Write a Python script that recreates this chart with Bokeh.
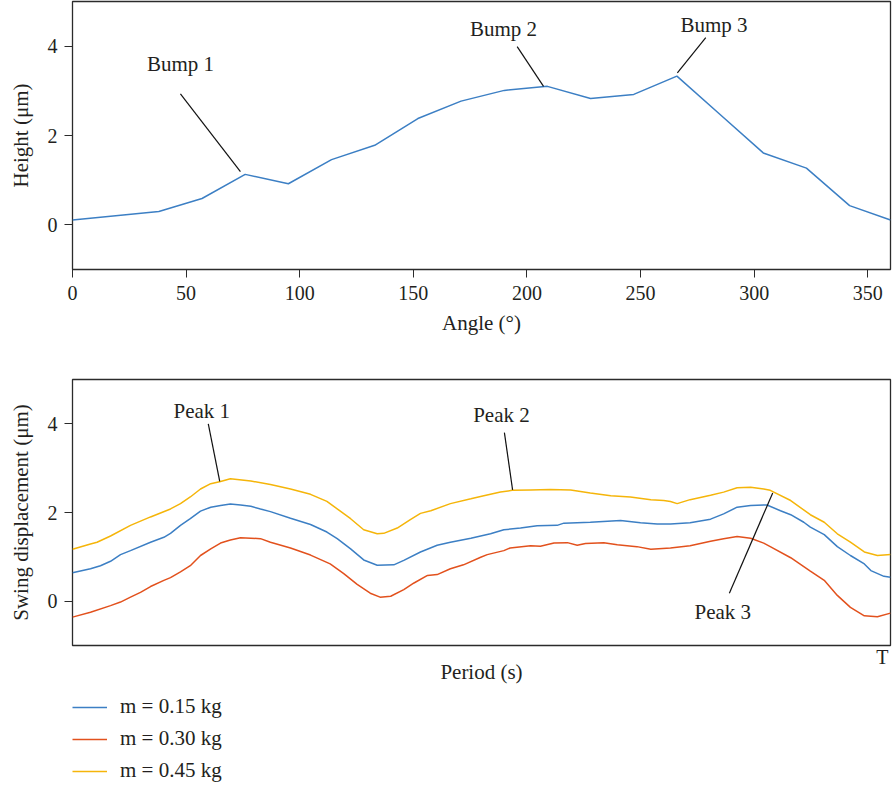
from bokeh.plotting import figure
from bokeh.layouts import column
from bokeh.models import Range1d, FixedTicker, Legend, LegendItem
from bokeh.core.properties import value
from bokeh.embed import file_html
from bokeh.resources import INLINE

# ---------------- data: top panel (surface height vs angle) ----------------
angle_deg = [0, 38, 57, 76, 95, 114, 133, 152, 171, 190, 209, 228, 247, 266, 285, 304, 323, 342, 360]
height_um = [0.11, 0.30, 0.59, 1.13, 0.92, 1.46, 1.78, 2.38, 2.77, 3.01, 3.10, 2.83, 2.92, 3.33, 2.47, 1.61, 1.27, 0.43, 0.11]
angle_ticks = [0, 50, 100, 150, 200, 250, 300, 350]
height_ticks = [0, 2, 4]

bump_labels = ["Bump 1", "Bump 2", "Bump 3"]
bump_text_x = [47.5, 189.7, 282.3]
bump_text_y = [3.59, 4.38, 4.47]
bump_line_x0 = [47.5, 195.7, 278.7]
bump_line_y0 = [2.93, 3.99, 4.19]
bump_line_x1 = [73.9, 207.3, 266.2]
bump_line_y1 = [1.19, 3.10, 3.40]

# ---------------- data: bottom panel (swing displacement over one period T) ----------------
period_015 = [0, 0.022, 0.0342, 0.0465, 0.0587, 0.0709, 0.0954, 0.1117, 0.1198, 0.132, 0.144, 0.1565,
              0.169, 0.181, 0.193, 0.2054, 0.218, 0.2298, 0.242, 0.2665, 0.291, 0.311, 0.3236, 0.340,
              0.356, 0.3725, 0.3928, 0.405, 0.4254, 0.4458, 0.462, 0.487, 0.511, 0.5273, 0.5477, 0.568,
              0.5925, 0.6007, 0.633, 0.670, 0.6944, 0.7148, 0.731, 0.755, 0.780, 0.796, 0.8125, 0.829,
              0.849, 0.8655, 0.878, 0.894, 0.902, 0.919, 0.935, 0.951, 0.968, 0.976, 0.992, 1.0]
disp_015 = [0.64, 0.73, 0.80, 0.90, 1.05, 1.14, 1.33, 1.44, 1.53, 1.71, 1.86, 2.03,
            2.12, 2.16, 2.19, 2.17, 2.14, 2.08, 2.02, 1.87, 1.73, 1.56, 1.41, 1.18,
            0.93, 0.81, 0.82, 0.92, 1.11, 1.26, 1.33, 1.42, 1.52, 1.61, 1.65, 1.70,
            1.71, 1.76, 1.78, 1.82, 1.77, 1.74, 1.74, 1.77, 1.85, 1.97, 2.12, 2.16,
            2.17, 2.04, 1.95, 1.78, 1.67, 1.50, 1.23, 1.03, 0.84, 0.69, 0.56, 0.54]

period_030 = [0, 0.022, 0.0465, 0.0587, 0.0709, 0.0831, 0.0954, 0.1117, 0.1198, 0.132, 0.144, 0.1565,
              0.169, 0.181, 0.193, 0.2054, 0.218, 0.2298, 0.242, 0.2665, 0.291, 0.315, 0.3316, 0.348,
              0.364, 0.376, 0.389, 0.405, 0.4175, 0.434, 0.4458, 0.462, 0.478, 0.499, 0.507, 0.5273,
              0.535, 0.560, 0.572, 0.5886, 0.605, 0.617, 0.6271, 0.6495, 0.666, 0.690, 0.707, 0.731,
              0.755, 0.780, 0.796, 0.8125, 0.829, 0.845, 0.853, 0.878, 0.902, 0.919, 0.935, 0.951,
              0.968, 0.984, 1.0]
disp_030 = [-0.36, -0.25, -0.10, -0.02, 0.09, 0.20, 0.33, 0.47, 0.53, 0.66, 0.80, 1.03,
            1.18, 1.31, 1.38, 1.43, 1.42, 1.41, 1.33, 1.20, 1.04, 0.84, 0.62, 0.38,
            0.18, 0.09, 0.11, 0.26, 0.41, 0.58, 0.60, 0.73, 0.82, 0.99, 1.05, 1.14,
            1.20, 1.25, 1.24, 1.31, 1.32, 1.26, 1.30, 1.32, 1.27, 1.23, 1.17, 1.20,
            1.25, 1.35, 1.41, 1.46, 1.42, 1.31, 1.23, 0.98, 0.68, 0.47, 0.13, -0.14,
            -0.33, -0.35, -0.27]

period_045 = [0, 0.022, 0.030, 0.0465, 0.0709, 0.0954, 0.1198, 0.132, 0.144, 0.1565, 0.169, 0.181,
              0.193, 0.218, 0.242, 0.2665, 0.291, 0.311, 0.3236, 0.340, 0.356, 0.3725, 0.3805, 0.397,
              0.413, 0.4254, 0.438, 0.462, 0.487, 0.5028, 0.5232, 0.5375, 0.560, 0.584, 0.609, 0.633,
              0.658, 0.682, 0.707, 0.7228, 0.731, 0.7392, 0.755, 0.780, 0.796, 0.8125, 0.829, 0.845,
              0.853, 0.878, 0.902, 0.919, 0.935, 0.951, 0.968, 0.984, 1.0]
disp_045 = [1.17, 1.29, 1.33, 1.47, 1.71, 1.90, 2.08, 2.20, 2.35, 2.53, 2.65, 2.70,
            2.76, 2.71, 2.63, 2.53, 2.41, 2.25, 2.08, 1.86, 1.61, 1.52, 1.53, 1.65,
            1.84, 1.98, 2.04, 2.20, 2.31, 2.38, 2.46, 2.50, 2.51, 2.52, 2.51, 2.44,
            2.38, 2.35, 2.29, 2.27, 2.25, 2.20, 2.29, 2.39, 2.46, 2.56, 2.57, 2.53,
            2.50, 2.27, 1.95, 1.78, 1.52, 1.33, 1.11, 1.03, 1.05]

series_labels = ["m = 0.15 kg", "m = 0.30 kg", "m = 0.45 kg"]
period_ticks = [1.0]
period_tick_labels = ["T"]
disp_ticks = [0, 2, 4]

peak_labels = ["Peak 1", "Peak 2", "Peak 3"]
peak_text_x = [0.158, 0.5244, 0.795]
peak_text_y = [4.30, 4.19, -0.25]
peak_line_x0 = [0.166, 0.528, 0.856]
peak_line_y0 = [4.00, 3.80, 2.44]
peak_line_x1 = [0.180, 0.538, 0.803]
peak_line_y1 = [2.70, 2.51, 0.18]

# ---------------- styling ----------------
FONT = "Liberation Serif"
TXT = "#231f20"
EDGE = "#2b2b2b"
BLUE, RED, YELLOW = "#3c7fc4", "#e2511d", "#f5b50a"
COLORS = [BLUE, RED, YELLOW]
FS = "21px"
TICK_FS = "20px"


def style(p):
    p.grid.visible = False
    p.outline_line_color = EDGE
    p.outline_line_width = 1.3
    p.background_fill_color = "white"
    p.border_fill_color = "white"
    for ax in p.axis:
        ax.axis_line_color = None
        ax.major_tick_line_color = EDGE
        ax.major_tick_line_width = 1
        ax.major_tick_out = 8
        ax.major_tick_in = 0
        ax.minor_tick_line_color = None
        ax.major_label_text_font = FONT
        ax.major_label_text_font_size = TICK_FS
        ax.major_label_text_color = TXT
        ax.axis_label_text_font = FONT
        ax.axis_label_text_font_size = FS
        ax.axis_label_text_font_style = "normal"
        ax.axis_label_text_color = TXT


W = 892

# ---------------- top figure ----------------
p1 = figure(width=W, height=341, output_backend="svg", toolbar_location=None,
            x_range=Range1d(0, 360), y_range=Range1d(-1, 5),
            min_border_left=72, min_border_right=2, min_border_top=1, min_border_bottom=72)
style(p1)
p1.xaxis.ticker = FixedTicker(ticks=angle_ticks)
p1.yaxis.ticker = FixedTicker(ticks=height_ticks)
p1.xaxis.axis_label = "Angle (°)"
p1.yaxis.axis_label = "Height (μm)"
p1.xaxis.major_label_standoff = 8
p1.xaxis.axis_label_standoff = 8
p1.yaxis.major_label_standoff = 7
p1.yaxis.axis_label_standoff = 12

p1.line(angle_deg, height_um, line_color=BLUE, line_width=1.5)
p1.segment(bump_line_x0, bump_line_y0, bump_line_x1, bump_line_y1, line_color="#111111", line_width=1.2)
p1.text(bump_text_x, bump_text_y, text=bump_labels, text_align="center", text_baseline="middle",
        text_font=value(FONT), text_font_size=FS, text_color=TXT)

# ---------------- bottom figure ----------------
p2 = figure(width=W, height=350, output_backend="svg", toolbar_location=None,
            x_range=Range1d(0, 1), y_range=Range1d(-1, 5),
            min_border_left=72, min_border_right=2, min_border_top=38, min_border_bottom=46)
style(p2)
p2.xaxis.ticker = FixedTicker(ticks=period_ticks)
p2.xaxis.major_label_overrides = {period_ticks[0]: period_tick_labels[0]}
p2.xaxis.major_tick_out = 0
p2.yaxis.ticker = FixedTicker(ticks=disp_ticks)
p2.xaxis.axis_label = "Period (s)"
p2.yaxis.axis_label = "Swing displacement (μm)"
p2.xaxis.major_label_standoff = 0
p2.xaxis.axis_label_standoff = -11
p2.yaxis.major_label_standoff = 7
p2.yaxis.axis_label_standoff = 12

series = [(period_015, disp_015), (period_030, disp_030), (period_045, disp_045)]
for (px, py), c in zip(series, COLORS):
    p2.line(px, py, line_color=c, line_width=1.5)
p2.segment(peak_line_x0, peak_line_y0, peak_line_x1, peak_line_y1, line_color="#111111", line_width=1.2)
p2.text(peak_text_x, peak_text_y, text=peak_labels, text_align="center", text_baseline="middle",
        text_font=value(FONT), text_font_size=FS, text_color=TXT)

# ---------------- legend strip (same series, range set so only the key shows) ----------------
p3 = figure(width=W, height=96, output_backend="svg", toolbar_location=None,
            x_range=Range1d(0, 1), y_range=Range1d(50, 51),
            x_axis_location=None, y_axis_location=None,
            min_border_left=72, min_border_right=2, min_border_top=3, min_border_bottom=0)
p3.grid.visible = False
p3.outline_line_color = None
p3.background_fill_color = "white"
p3.border_fill_color = "white"
items = []
for (px, py), c, lab in zip(series, COLORS, series_labels):
    r = p3.line(px, py, line_color=c, line_width=1.5)
    items.append(LegendItem(label=lab, renderers=[r]))

legend = Legend(items=items, location="top_left", orientation="vertical",
                margin=0, padding=0, spacing=7,
                glyph_width=35, glyph_height=20, label_height=20, label_standoff=13,
                label_text_font=FONT, label_text_font_size=FS, label_text_color=TXT,
                background_fill_alpha=0, border_line_color=None)
p3.add_layout(legend, "center")

layout = column(p1, p2, p3, spacing=0)
open("out.html", "w").write(file_html(layout, INLINE))
